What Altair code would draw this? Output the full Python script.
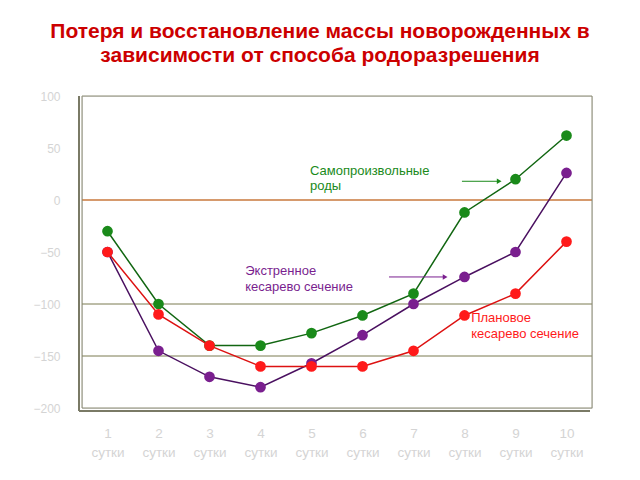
import altair as alt
import pandas as pd

days = [1, 2, 3, 4, 5, 6, 7, 8, 9, 10]
spontaneous = [-30, -100, -140, -140, -128, -111, -90, -12, 20, 62]
emergency = [-50, -145, -170, -180, -157, -130, -100, -74, -50, 26]
planned = [-50, -110, -140, -160, -160, -160, -145, -111, -90, -40]
series_names = ["Самопроизвольные роды", "Экстренное кесарево сечение", "Плановое кесарево сечение"]
series_colors = ["#1a8a1a", "#7a1f8f", "#ff1a1a"]
line_colors = ["#116611", "#4a1060", "#dd1111"]
y_ticks = [-200, -150, -100, -50, 0, 50, 100]
grid_vals = [-150, -100]
zero_val = [0]

title_lines = ["Потеря и восстановление массы новорожденных в",
               "зависимости от способа родоразрешения"]

rows = []
for order, (name, vals) in enumerate(zip(series_names, [spontaneous, emergency, planned])):
    for d, v in zip(days, vals):
        rows.append({"day": d, "value": v, "series": name, "order": order})
df = pd.DataFrame(rows)

xs = alt.Scale(domain=[0.5, 10.5], nice=False, zero=False)
ys = alt.Scale(domain=[-200, 100], nice=False)

ax_x = alt.Axis(values=days, grid=False, domain=False, ticks=False,
                labelExpr="[datum.label, 'сутки']", labelColor="#d4d4d4",
                labelFontSize=13.5, labelPadding=18, labelLineHeight=19,
                labelFont="Liberation Sans", title=None)
ax_y = alt.Axis(values=y_ticks, grid=False, domain=False, ticks=False,
                labelColor="#d4d4d4", labelFontSize=12, labelPadding=22,
                labelFont="Liberation Sans", title=None)

grid = alt.Chart(pd.DataFrame({"v": grid_vals})).mark_rule(color="#7a7a50", strokeWidth=1).encode(
    y=alt.Y("v:Q", scale=ys, axis=ax_y))
zero = alt.Chart(pd.DataFrame({"v": zero_val})).mark_rule(color="#c8783c", strokeWidth=1.5).encode(
    y=alt.Y("v:Q", scale=ys))

frame = alt.Chart(pd.DataFrame({"a": [0]})).mark_rect(fillOpacity=0, stroke="#8a8a72", strokeWidth=1).encode(
    x=alt.value(0), x2=alt.value(510), y=alt.value(0), y2=alt.value(312))
frame_left = alt.Chart(pd.DataFrame({"a": [0]})).mark_rule(color="#7a7a66", strokeWidth=2).encode(
    x=alt.value(-3), y=alt.value(0), y2=alt.value(315))
frame_bottom = alt.Chart(pd.DataFrame({"a": [0]})).mark_rule(color="#7a7a66", strokeWidth=2).encode(
    x=alt.value(-3), x2=alt.value(508), y=alt.value(315))

layers = [grid, zero, frame, frame_left, frame_bottom]
for name, pc, lc in zip(series_names, series_colors, line_colors):
    sub = df[df.series == name]
    layers.append(alt.Chart(sub).mark_line(color=lc, strokeWidth=1.5).encode(
        x=alt.X("day:Q", scale=xs, axis=ax_x), y=alt.Y("value:Q", scale=ys)))
for name, pc, lc in zip(series_names, series_colors, line_colors):
    sub = df[df.series == name]
    layers.append(alt.Chart(sub).mark_circle(color=pc, opacity=1, size=115).encode(
        x=alt.X("day:Q", scale=xs), y=alt.Y("value:Q", scale=ys)))

# annotations
ann = pd.DataFrame({
    "x": [4.97, 3.7, 8.13],
    "y": [28, -68.5, -113.5],
    "t": ["Самопроизвольные\n\u00a0роды", "Экстренное\nкесарево сечение", "Плановое\nкесарево сечение"],
    "c": series_colors,
})
texts = alt.Chart(ann).mark_text(align="left", baseline="middle", fontSize=13,
                                 font="Liberation Sans", lineBreak="\n", lineHeight=15.5).encode(
    x=alt.X("x:Q", scale=xs), y=alt.Y("y:Q", scale=ys), text="t:N",
    color=alt.Color("c:N", scale=None))

arrows = pd.DataFrame({"x1": [7.95, 6.52], "x2": [8.68, 7.62], "y": [18, -74], "c": series_colors[:2]})
arrow_lines = alt.Chart(arrows).mark_rule(strokeWidth=1).encode(
    x=alt.X("x1:Q", scale=xs), x2="x2:Q", y=alt.Y("y:Q", scale=ys), color=alt.Color("c:N", scale=None))
arrow_heads = alt.Chart(arrows).mark_point(shape="triangle-right", filled=True, size=30, opacity=1).encode(
    x=alt.X("x2:Q", scale=xs), y=alt.Y("y:Q", scale=ys), color=alt.Color("c:N", scale=None))

chart = alt.layer(*layers, texts, arrow_lines, arrow_heads).properties(
    width=510, height=312,
    autosize=alt.AutoSizeParams(type="none"),
    padding={"left": 82, "top": 96, "right": 48, "bottom": 72},
    title=alt.TitleParams(text=title_lines, fontSize=21, fontWeight="bold", color="#cc0000",
                          font="Liberation Sans", anchor="middle", offset=24, dx=-17, lineHeight=24),
).configure_view(fill="#ffffcc", stroke=None
).configure(background="white")

chart.save("out.html", embed_options={"renderer": "svg", "actions": False})
